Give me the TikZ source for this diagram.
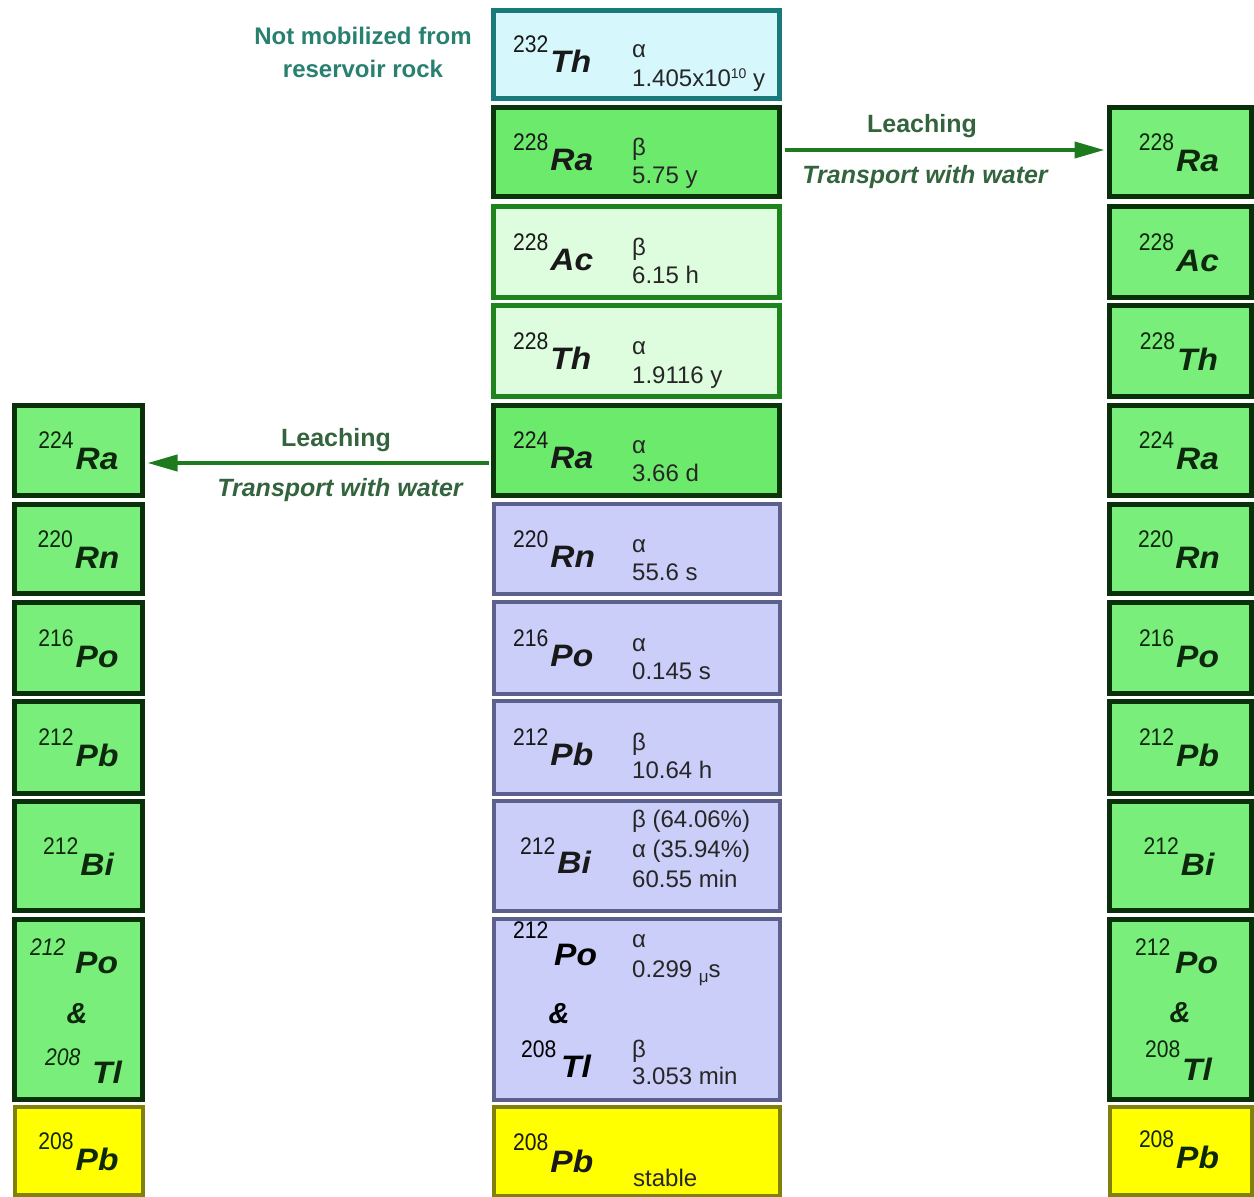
\documentclass[tikz,border=0pt]{standalone}
\usepackage{fontspec}
\setmainfont{Liberation Sans}
\newfontfamily\elemfont[FakeStretch=1.08]{Liberation Sans}
\newfontfamily\massfont[FakeStretch=0.88]{Liberation Sans}
\usetikzlibrary{arrows.meta}

% fills and frames of the boxes
\definecolor{thfill}{RGB}{214,248,252}
\definecolor{thline}{RGB}{24,122,122}
\definecolor{rafill}{RGB}{108,234,108}
\definecolor{raline}{RGB}{10,52,10}
\definecolor{ltfill}{RGB}{222,252,222}
\definecolor{ltline}{RGB}{30,132,30}
\definecolor{lavfill}{RGB}{202,206,248}
\definecolor{lavline}{RGB}{92,96,140}
\definecolor{ylfill}{RGB}{255,255,0}
\definecolor{ylline}{RGB}{128,128,10}
\definecolor{sdfill}{RGB}{122,238,122}
\definecolor{sdline}{RGB}{10,48,10}
\definecolor{arrgreen}{RGB}{30,122,30}
\definecolor{lblgreen}{RGB}{52,100,62}
\definecolor{tealtext}{RGB}{40,128,112}
\definecolor{sidetext}{RGB}{14,40,14}

% mass number raised before a bold italic element symbol
\newcommand\nucl[3]{\raisebox{#1}{\massfont\fontsize{24}{24}\selectfont #2}\hspace{2pt}{\elemfont\fontsize{31}{31}\selectfont\bfseries\itshape #3}}

\tikzset{
  box/.style={rectangle, inner sep=0pt, line width=5pt},
  thbox/.style={box, fill=thfill, draw=thline},
  rabox/.style={box, fill=rafill, draw=raline},
  ltbox/.style={box, fill=ltfill, draw=ltline},
  lavbox/.style={box, fill=lavfill, draw=lavline, line width=4pt},
  ylbox/.style={box, fill=ylfill, draw=ylline, line width=4pt},
  sdbox/.style={box, fill=sdfill, draw=sdline},
  cbox/.style={minimum width=286},
  lbox/.style={minimum width=128},
  rbox/.style={minimum width=142},
  sym/.style={anchor=base west, inner sep=0pt, text=black!90},
  ssym/.style={anchor=base, inner sep=0pt, text=sidetext},
  dk/.style={anchor=base west, inner sep=0pt, text=black!85,
    font=\fontsize{24}{24}\selectfont},
  sup/.style={inner sep=0pt, font=\massfont\fontsize{24}{24}\selectfont},
  elem/.style={inner sep=0pt, font=\elemfont\fontsize{31}{31}\selectfont\bfseries\itshape},
  amp/.style={anchor=base, inner sep=0pt, font=\fontsize{29}{29}\selectfont\bfseries\itshape},
  lbl/.style={inner sep=0pt, text=lblgreen, font=\fontsize{25}{25}\selectfont\bfseries},
  lbli/.style={inner sep=0pt, text=lblgreen, font=\fontsize{25}{25}\selectfont\bfseries\itshape},
  arr/.style={draw=arrgreen, line width=4pt, -{Triangle[length=30pt,width=16pt]}},
}

\begin{document}
\begin{tikzpicture}[x=1pt,y=-1pt]
\useasboundingbox (0,0) rectangle (1254,1197);

% ---- central decay chain ----
\node[thbox, cbox, minimum height=88] (c1) at (636.5,54.5) {};
\node[rabox, cbox, minimum height=89] (c2) at (636.5,152) {};
\node[ltbox, cbox, minimum height=91] (c3) at (636.5,252) {};
\node[ltbox, cbox, minimum height=91] (c4) at (636.5,351) {};
\node[rabox, cbox, minimum height=90] (c5) at (636.5,450.5) {};
\node[lavbox, cbox, minimum height=90] (c6) at (636.5,549) {};
\node[lavbox, cbox, minimum height=92] (c7) at (636.5,648) {};
\node[lavbox, cbox, minimum height=93] (c8) at (636.5,747.5) {};
\node[lavbox, cbox, minimum height=110] (c9) at (636.5,856) {};
\node[lavbox, cbox, minimum height=181] (c10) at (636.5,1009.5) {};
\node[ylbox, cbox, minimum height=89] (c11) at (636.5,1151) {};

\node[sym] (c1s) at (513,72.5) {\nucl{20pt}{232}{Th}};
\node[sym] (c2s) at (513,170) {\nucl{20pt}{228}{Ra}};
\node[sym] (c3s) at (513,270) {\nucl{20pt}{228}{Ac}};
\node[sym] (c4s) at (513,369) {\nucl{20pt}{228}{Th}};
\node[sym] (c5s) at (513,468.5) {\nucl{20pt}{224}{Ra}};
\node[sym] (c6s) at (513,567) {\nucl{20pt}{220}{Rn}};
\node[sym] (c7s) at (513,666) {\nucl{20pt}{216}{Po}};
\node[sym] (c8s) at (513,765.5) {\nucl{20pt}{212}{Pb}};
\node[sym] (c9s) at (520,873) {\nucl{19pt}{212}{Bi}};
\node[sym] (c11s) at (513,1172) {\nucl{22pt}{208}{Pb}};

\node[sup, anchor=base west] (c10m) at (513,938) {212};
\node[elem, anchor=base west] (c10e) at (554,965) {Po};
\node[amp] (c10a) at (559,1023) {\&};
\node[sup, anchor=base west] (c10n) at (521,1057) {208};
\node[elem, anchor=base west] (c10f) at (561,1077) {Tl};

\node[dk] (c1a) at (632,57.5) {α};
\node[dk] (c1b) at (632,86.5) {1.405x10\raisebox{8pt}{\fontsize{14}{14}\selectfont 10} y};
\node[dk] (c2a) at (632,155) {β};
\node[dk] (c2b) at (632,183) {5.75 y};
\node[dk] (c3a) at (632,255) {β};
\node[dk] (c3b) at (632,283) {6.15 h};
\node[dk] (c4a) at (632,354) {α};
\node[dk] (c4b) at (632,383) {1.9116 y};
\node[dk] (c5a) at (632,453.5) {α};
\node[dk] (c5b) at (632,481) {3.66 d};
\node[dk] (c6a) at (632,552) {α};
\node[dk] (c6b) at (632,580) {55.6 s};
\node[dk] (c7a) at (632,651) {α};
\node[dk] (c7b) at (632,679) {0.145 s};
\node[dk] (c8a) at (632,750.5) {β};
\node[dk] (c8b) at (632,778.5) {10.64 h};
\node[dk] (c9a) at (632,827) {β (64.06\%)};
\node[dk] (c9b) at (632,857) {α (35.94\%)};
\node[dk] (c9c) at (632,887) {60.55 min};
\node[dk] (c10b) at (632,947) {α};
\node[dk] (c10c) at (632,977) {0.299 \raisebox{-5pt}{\fontsize{17}{17}\selectfont μ}s};
\node[dk] (c10d) at (632,1057) {β};
\node[dk] (c10g) at (632,1084) {3.053 min};
\node[dk] (c11a) at (633,1186) {stable};

% ---- left column: what leached 224Ra becomes ----
\foreach \n/\yc/\h/\m/\e in {5/450.5/90/224/Ra, 6/549/89/220/Rn, 7/648/91/216/Po,
    8/747.5/92/212/Pb, 9/856/109/212/Bi} {
  \node[sdbox, lbox, minimum height=\h] (l\n) at (78.5,\yc) {};
  \node[ssym] (l\n t) at (78.5,\yc+19) {\nucl{21pt}{\m}{\e}};
}
\node[sdbox, lbox, minimum height=180] (l10) at (78.5,1009.5) {};
\node[sup, anchor=base west, text=sidetext, font=\massfont\fontsize{24}{24}\selectfont\itshape] (l10m) at (30,955) {212};
\node[elem, anchor=base west, text=sidetext] (l10e) at (75,973) {Po};
\node[amp, text=sidetext] (l10a) at (77,1023) {\&};
\node[sup, anchor=base west, text=sidetext, font=\massfont\fontsize{24}{24}\selectfont\itshape] (l10n) at (45,1065) {208};
\node[elem, anchor=base west, text=sidetext] (l10f) at (92,1083) {Tl};
\node[ylbox, lbox, minimum height=88] (l11) at (78.5,1151) {};
\node[ssym] (l11t) at (78.5,1170) {\nucl{21pt}{208}{Pb}};

% ---- right column: what leached 228Ra becomes ----
\foreach \n/\yc/\h/\m/\e in {2/152/89/228/Ra, 3/252/91/228/Ac, 4/351/91/228/Th,
    5/450.5/90/224/Ra, 6/549/89/220/Rn, 7/648/91/216/Po,
    8/747.5/92/212/Pb, 9/856/109/212/Bi} {
  \node[sdbox, rbox, minimum height=\h] (r\n) at (1180.5,\yc) {};
  \node[ssym] (r\n t) at (1179,\yc+19) {\nucl{21pt}{\m}{\e}};
}
\node[sdbox, rbox, minimum height=180] (r10) at (1180.5,1009.5) {};
\node[sup, anchor=base west, text=sidetext] (r10m) at (1135,955) {212};
\node[elem, anchor=base west, text=sidetext] (r10e) at (1175,973) {Po};
\node[amp, text=sidetext] (r10a) at (1180,1022) {\&};
\node[sup, anchor=base west, text=sidetext] (r10n) at (1145,1057) {208};
\node[elem, anchor=base west, text=sidetext] (r10f) at (1182,1080) {Tl};
\node[ylbox, rbox, minimum height=88] (r11) at (1180.5,1151) {};
\node[ssym] (r11t) at (1179,1168) {\nucl{21pt}{208}{Pb}};

% ---- leaching arrows ----
\draw[arr, shorten <=2.5pt, shorten >=2.5pt] (c2.east |- 0,150) -- (r2.west |- 0,150);
\draw[arr, shorten <=2.5pt, shorten >=2.5pt] (c5.west |- 0,463) -- (l5.east |- 0,463);

\node[lbl] (lr1) at (922,126) {Leaching};
\node[lbli] (lr2) at (925,177) {Transport with water};
\node[lbl] (ll1) at (336,440) {Leaching};
\node[lbli] (ll2) at (340,490) {Transport with water};

% ---- note on the parent ----
\node[inner sep=0pt, text=tealtext, align=center, font=\fontsize{24}{33}\selectfont\bfseries]
  (note) at (363,52) {Not mobilized from\\reservoir rock};
\end{tikzpicture}
\end{document}
